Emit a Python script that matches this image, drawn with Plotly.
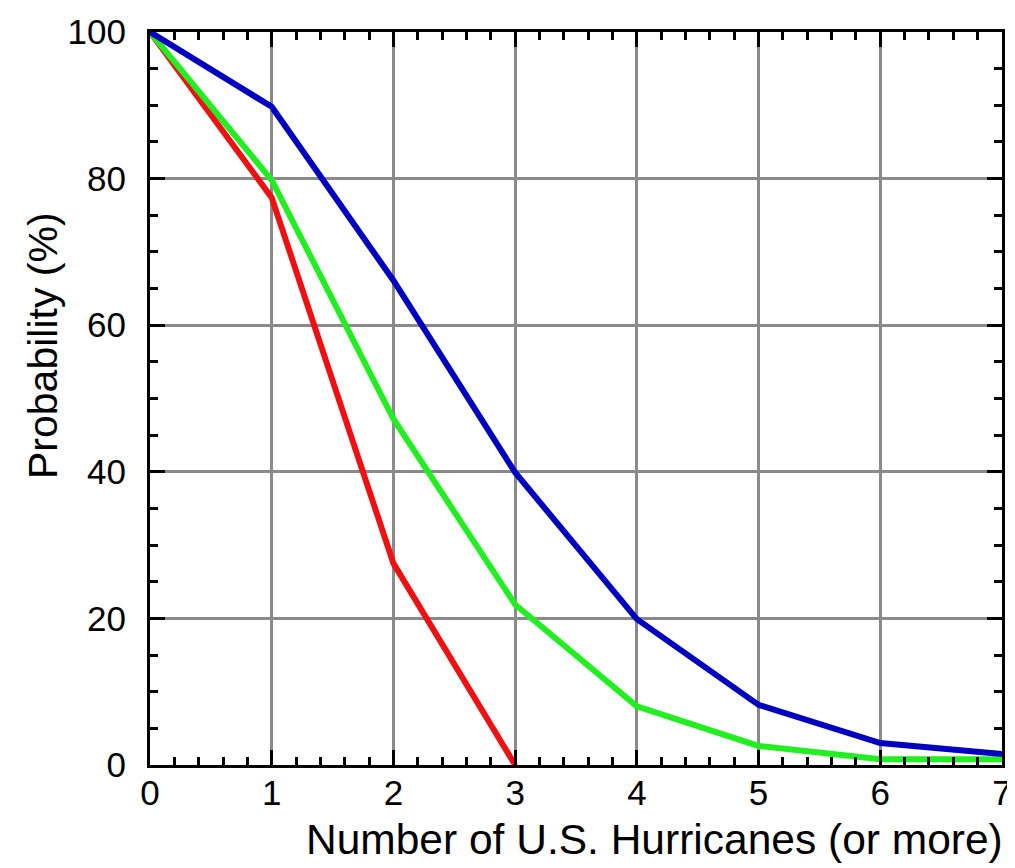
import plotly.graph_objects as go

hurricanes = [0, 1, 2, 3, 4, 5, 6, 7]
blue_prob = [100, 89.8, 66.1, 39.9, 19.9, 8.2, 3.0, 1.5]
green_prob = [100, 79.8, 47.2, 21.9, 8.0, 2.6, 0.8, 0.8]
red_x = [0, 1, 2, 3]
red_prob = [100, 77.4, 27.5, 0]

x_ticks = [0, 1, 2, 3, 4, 5, 6, 7]
y_ticks = [0, 20, 40, 60, 80, 100]

FONT = "Liberation Sans, Arial, Helvetica, sans-serif"

fig = go.Figure()
fig.add_trace(go.Scatter(x=red_x, y=red_prob, mode="lines",
                         line=dict(color="#EE1111", width=6), showlegend=False))
fig.add_trace(go.Scatter(x=hurricanes, y=green_prob, mode="lines",
                         line=dict(color="#22EE22", width=6), showlegend=False))
fig.add_trace(go.Scatter(x=hurricanes, y=blue_prob, mode="lines",
                         line=dict(color="#0000C0", width=6), showlegend=False))

axis_common = dict(
    showline=True, linecolor="black", linewidth=3, mirror="ticks",
    ticks="inside", ticklen=15, tickwidth=3, tickcolor="black",
    showgrid=True, gridcolor="#8a8a8a", gridwidth=2.5,
    zeroline=False, automargin=False,
    tickfont=dict(family=FONT, size=35, color="black"),
)

fig.update_xaxes(
    range=[0, 7], tickvals=x_ticks, ticktext=[str(v) for v in x_ticks],
    minor=dict(dtick=0.2, ticks="inside", ticklen=8, tickwidth=3,
               tickcolor="black", showgrid=False),
    ticklabelstandoff=-5,
    **axis_common,
)
fig.update_yaxes(
    range=[0, 100], tickvals=y_ticks, ticktext=[str(v) for v in y_ticks],
    minor=dict(dtick=5, ticks="inside", ticklen=8, tickwidth=3,
               tickcolor="black", showgrid=False),
    ticklabelstandoff=14,
    **axis_common,
)

fig.add_annotation(text="Number of U.S. Hurricanes (or more)", xref="paper", yref="paper",
                   x=1.0, y=-0.102, xanchor="right", yanchor="middle", showarrow=False,
                   xshift=3,
                   font=dict(family=FONT, size=42.5, color="black"))
fig.add_annotation(text="Probability (%)", xref="paper", yref="paper",
                   x=-0.1256, y=0.573, xanchor="center", yanchor="middle", textangle=-90,
                   showarrow=False, font=dict(family=FONT, size=41, color="black"))

fig.update_layout(
    width=1007, height=860,
    margin=dict(l=142, r=13, t=24, b=103),
    plot_bgcolor="white", paper_bgcolor="white",
)

fig.write_html("out.html")
